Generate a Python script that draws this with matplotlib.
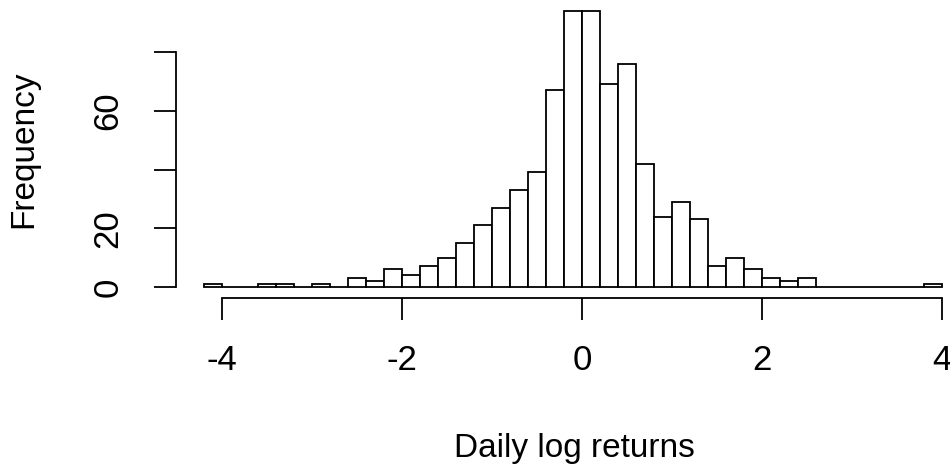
import numpy as np
import matplotlib.pyplot as plt

# histogram of daily log returns, bins of width 0.2 starting at -4.2
bin_start = -4.2
bin_width = 0.2
counts = [1, 0, 0, 1, 1, 0, 1, 0, 3, 2,
          6, 4, 7, 10, 15, 21, 27, 33, 39, 67,
          94, 94, 69, 76, 42, 24, 29, 23, 7, 10,
          6, 3, 2, 3, 0, 0, 0, 0, 0, 0,
          1]
x_ticks = [-4, -2, 0, 2, 4]
y_ticks = [0, 20, 40, 60, 80]
y_ticklabels = ['0', '20', '', '60', '']

plt.rcParams['font.family'] = ['Liberation Sans', 'DejaVu Sans']

W, H = 950, 467
fig = plt.figure(figsize=(W / 100, H / 100), dpi=100)
ax = fig.add_axes([176 / W, 1 - 298 / H, (W - 176) / W, 298 / H])

lefts = bin_start + bin_width * np.arange(len(counts))
ax.bar(lefts, counts, width=bin_width, align='edge',
       facecolor='white', edgecolor='black', linewidth=1.3)

ax.set_xlim(-4.511, 4.089)
ax.set_ylim(-3.76, 97.76)

for s in ['top', 'right']:
    ax.spines[s].set_visible(False)
ax.spines['left'].set_bounds(0, 80)
ax.spines['bottom'].set_bounds(-4, 4)
for s in ['left', 'bottom']:
    ax.spines[s].set_linewidth(1.3)

ax.set_xticks(x_ticks)
ax.set_xticklabels([str(t) for t in x_ticks])
ax.set_yticks(y_ticks)
ax.set_yticklabels(y_ticklabels, rotation=90, va='center')
ax.tick_params(direction='out', length=16, width=1.3, labelsize=25)
ax.tick_params(axis='x', pad=17)
ax.tick_params(axis='y', pad=21)

fig.text(574 / W, 1 - 448 / H, 'Daily log returns', fontsize=24,
         ha='center', va='center')
fig.text(24 / W, 1 - 149 / H, 'Frequency', fontsize=24,
         ha='center', va='center', rotation=90)

fig.savefig('out.png', dpi=100)
